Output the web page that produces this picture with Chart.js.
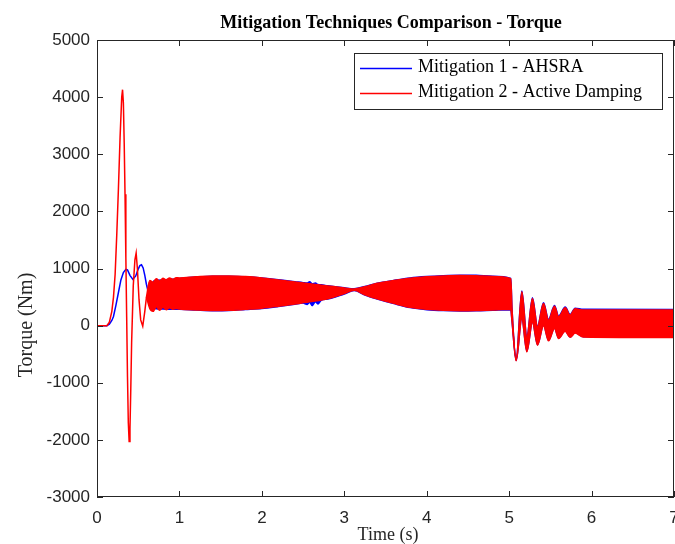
<!DOCTYPE html>
<html>
<head>
<meta charset="utf-8">
<script src="https://cdn.jsdelivr.net/npm/chart.js@4.4.1/dist/chart.umd.min.js"></script>
<style>
  body { margin: 0; background: #fff; }
</style>
</head>
<body>
<canvas id="myChart" width="675" height="544"></canvas>
<script>
const seriesNames = ["Mitigation 1 - AHSRA", "Mitigation 2 - Active Damping"];
const lineColors = ["#0000ff", "#ff0000"];
const xTicks = [0, 1, 2, 3, 4, 5, 6, 7];
const yTicks = [-3000, -2000, -1000, 0, 1000, 2000, 3000, 4000, 5000];

// start-up transient, AHSRA (blue)
const blueT = [0, 0.12, 0.15, 0.18, 0.2, 0.23, 0.26, 0.29, 0.32, 0.35, 0.37, 0.4, 0.435, 0.47, 0.5, 0.52, 0.54, 0.56, 0.58, 0.6, 0.62];
const blueV = [0, 0, 25, 90, 160, 360, 580, 800, 930, 985, 975, 880, 810, 870, 990, 1050, 1065, 1010, 880, 720, 600];

// fast oscillation band of the blue trace: upper / lower edge
const blueBandT = [0.62, 0.7, 0.8, 0.9, 1.0, 1.2, 1.4, 1.6, 1.8, 2.0, 2.2, 2.4, 2.5, 2.55, 2.58, 2.61, 2.65, 2.68, 2.72, 2.8, 3.0, 3.12, 3.25, 3.4, 3.6, 3.8, 4.0, 4.2, 4.4, 4.6, 4.8, 5.02, 5.035, 5.085, 5.154, 5.215, 5.283, 5.344, 5.417, 5.478, 5.55, 5.6, 5.68, 5.74, 5.8, 5.9, 7];
const blueUpper = [600, 790, 800, 810, 825, 850, 865, 865, 855, 835, 803, 770, 752, 745, 770, 735, 745, 720, 715, 697, 662, 645, 685, 742, 792, 835, 860, 875, 882, 880, 866, 826, 290, -590, 605, -185, 488, -10, 400, 108, 353, 166, 324, 196, 306, 285, 283];
const blueLower = [600, 300, 290, 285, 285, 272, 262, 265, 282, 300, 335, 375, 395, 370, 410, 350, 420, 380, 445, 465, 555, 615, 535, 465, 385, 315, 280, 263, 257, 260, 270, 280, 75, -610, 130, -450, 70, -335, 10, -258, -40, -215, -90, -198, -120, -195, -200];

// start-up transient, Active Damping (red)
const redT = [0, 0.12, 0.15, 0.18, 0.2, 0.22, 0.24, 0.26, 0.28, 0.3, 0.31, 0.32, 0.33, 0.34, 0.35, 0.36, 0.37, 0.38, 0.39, 0.4, 0.41, 0.42, 0.44, 0.46, 0.475, 0.49, 0.51, 0.53, 0.555, 0.58, 0.6];
const redV = [0, 0, 60, 250, 500, 900, 1600, 2400, 3300, 4000, 4130, 3900, 3200, 2300, 1200, 150, -900, -1700, -2030, -1800, -1100, -300, 700, 1150, 1270, 1000, 450, 100, -10, 250, 500];

// fast oscillation band of the red trace: upper / lower edge
const redBandT = [0.6, 0.64, 0.68, 0.72, 0.76, 0.8, 0.84, 0.88, 0.92, 0.96, 1.0, 1.2, 1.4, 1.6, 1.8, 2.0, 2.2, 2.4, 2.6, 2.8, 3.0, 3.12, 3.25, 3.4, 3.6, 3.8, 4.0, 4.2, 4.4, 4.6, 4.8, 5.02, 5.035, 5.085, 5.154, 5.215, 5.283, 5.344, 5.417, 5.478, 5.55, 5.6, 5.68, 5.74, 5.8, 5.9, 7];
const redUpper = [500, 790, 760, 820, 780, 830, 800, 835, 810, 840, 835, 855, 870, 868, 858, 835, 800, 765, 730, 695, 660, 640, 680, 740, 790, 830, 855, 870, 878, 875, 860, 820, 280, -600, 592, -196, 476, -21, 388, 96, 341, 154, 312, 184, 294, 275, 272];
const redLower = [500, 300, 250, 330, 270, 320, 280, 315, 285, 300, 290, 275, 265, 268, 285, 305, 340, 380, 420, 470, 560, 620, 540, 470, 390, 320, 285, 268, 262, 265, 275, 285, 80, -616, 120, -459, 60, -342, 0, -266, -50, -224, -100, -205, -130, -200, -210];

function pts(ts, vs) {
  return ts.map((t, i) => ({ x: t, y: vs[i] }));
}

const axisColor = "#262626";

function lineSet(label, data, color, order, fill, smooth) {
  return {
    label: label,
    data: data,
    borderColor: color,
    backgroundColor: color,
    borderWidth: 1.5,
    pointRadius: 0,
    tension: 0,
    cubicInterpolationMode: smooth ? "monotone" : "default",
    order: order,
    fill: fill
  };
}

// box, inward ticks, title, axis labels and legend, MATLAB style
const matlabFrame = {
  id: "matlabFrame",
  afterDatasetsDraw(chart) {
    const ctx = chart.ctx;
    const a = chart.chartArea;
    const xs = chart.scales.x, ys = chart.scales.y;
    ctx.save();
    ctx.strokeStyle = axisColor;
    ctx.lineWidth = 1;
    ctx.strokeRect(a.left + 0.5, a.top + 0.5, a.right - a.left - 1, a.bottom - a.top - 1);
    ctx.beginPath();
    xTicks.forEach(v => {
      const px = Math.round(xs.getPixelForValue(v)) + 0.5;
      ctx.moveTo(px, a.bottom); ctx.lineTo(px, a.bottom - 6);
      ctx.moveTo(px, a.top); ctx.lineTo(px, a.top + 6);
    });
    yTicks.forEach(v => {
      const py = Math.round(ys.getPixelForValue(v)) + 0.5;
      ctx.moveTo(a.left, py); ctx.lineTo(a.left + 6, py);
      ctx.moveTo(a.right, py); ctx.lineTo(a.right - 6, py);
    });
    ctx.stroke();
    ctx.restore();
  },
  afterDraw(chart) {
    const ctx = chart.ctx;
    ctx.save();
    ctx.fillStyle = "#000";
    ctx.textAlign = "center";
    ctx.textBaseline = "alphabetic";
    ctx.font = "bold 18px 'Liberation Serif'";
    ctx.fillText("Mitigation Techniques Comparison - Torque", 391, 28);

    ctx.fillStyle = axisColor;
    ctx.font = "18px 'Liberation Serif'";
    ctx.fillText("Time (s)", 388, 540);
    ctx.save();
    ctx.translate(27, 325);
    ctx.rotate(-Math.PI / 2);
    ctx.textBaseline = "middle";
    ctx.font = "20px 'Liberation Serif'";
    ctx.fillText("Torque (Nm)", 0, 0);
    ctx.restore();

    // legend
    ctx.fillStyle = "#fff";
    ctx.fillRect(354, 53, 309, 57);
    ctx.strokeStyle = axisColor;
    ctx.lineWidth = 1;
    ctx.strokeRect(354.5, 53.5, 308, 56);
    ctx.textAlign = "left";
    ctx.textBaseline = "middle";
    ctx.fillStyle = "#000";
    ctx.font = "18px 'Liberation Serif'";
    seriesNames.forEach((name, i) => {
      const ly = 68 + i * 25;
      ctx.strokeStyle = lineColors[i];
      ctx.lineWidth = 1.3;
      ctx.beginPath();
      ctx.moveTo(360, ly + 0.5); ctx.lineTo(412, ly + 0.5);
      ctx.stroke();
      ctx.fillText(name, 418, ly - 1);
    });
    ctx.restore();
  }
};

const tickFont = { family: "'Liberation Sans'", size: 17 };

new Chart("myChart", {
  type: "line",
  data: {
    datasets: [
      lineSet(seriesNames[0], pts(blueT, blueV), lineColors[0], 2, false, false),
      lineSet("blue upper", pts(blueBandT, blueUpper), lineColors[0], 2, false, true),
      lineSet("blue lower", pts(blueBandT, blueLower), lineColors[0], 2, "-1", true),
      lineSet(seriesNames[1], pts(redT, redV), lineColors[1], 1, false, false),
      lineSet("red upper", pts(redBandT, redUpper), lineColors[1], 1, false, true),
      lineSet("red lower", pts(redBandT, redLower), lineColors[1], 1, "-1", true)
    ]
  },
  options: {
    responsive: false,
    devicePixelRatio: 1,
    animation: false,
    layout: { padding: { top: 40, right: 1, left: 0, bottom: 0 } },
    plugins: {
      legend: { display: false },
      title: { display: false },
      tooltip: { enabled: false }
    },
    scales: {
      x: {
        type: "linear",
        min: 0,
        max: 7,
        grid: { display: false, drawTicks: false },
        border: { display: false },
        ticks: {
          stepSize: 1,
          padding: 11,
          maxRotation: 0,
          color: axisColor,
          font: tickFont,
          callback: v => String(v)
        },
        afterFit(scale) {
          scale.height = 47;
          scale.paddingLeft = 0;
          scale.paddingRight = 0;
        }
      },
      y: {
        min: -3000,
        max: 5000,
        grid: { display: false, drawTicks: false },
        border: { display: false },
        ticks: {
          stepSize: 1000,
          padding: 7,
          color: axisColor,
          font: tickFont,
          callback: v => String(v)
        },
        afterFit(scale) {
          scale.width = 97;
          scale.paddingTop = 0;
          scale.paddingBottom = 0;
        }
      }
    }
  },
  plugins: [matlabFrame]
});
</script>
</body>
</html>
